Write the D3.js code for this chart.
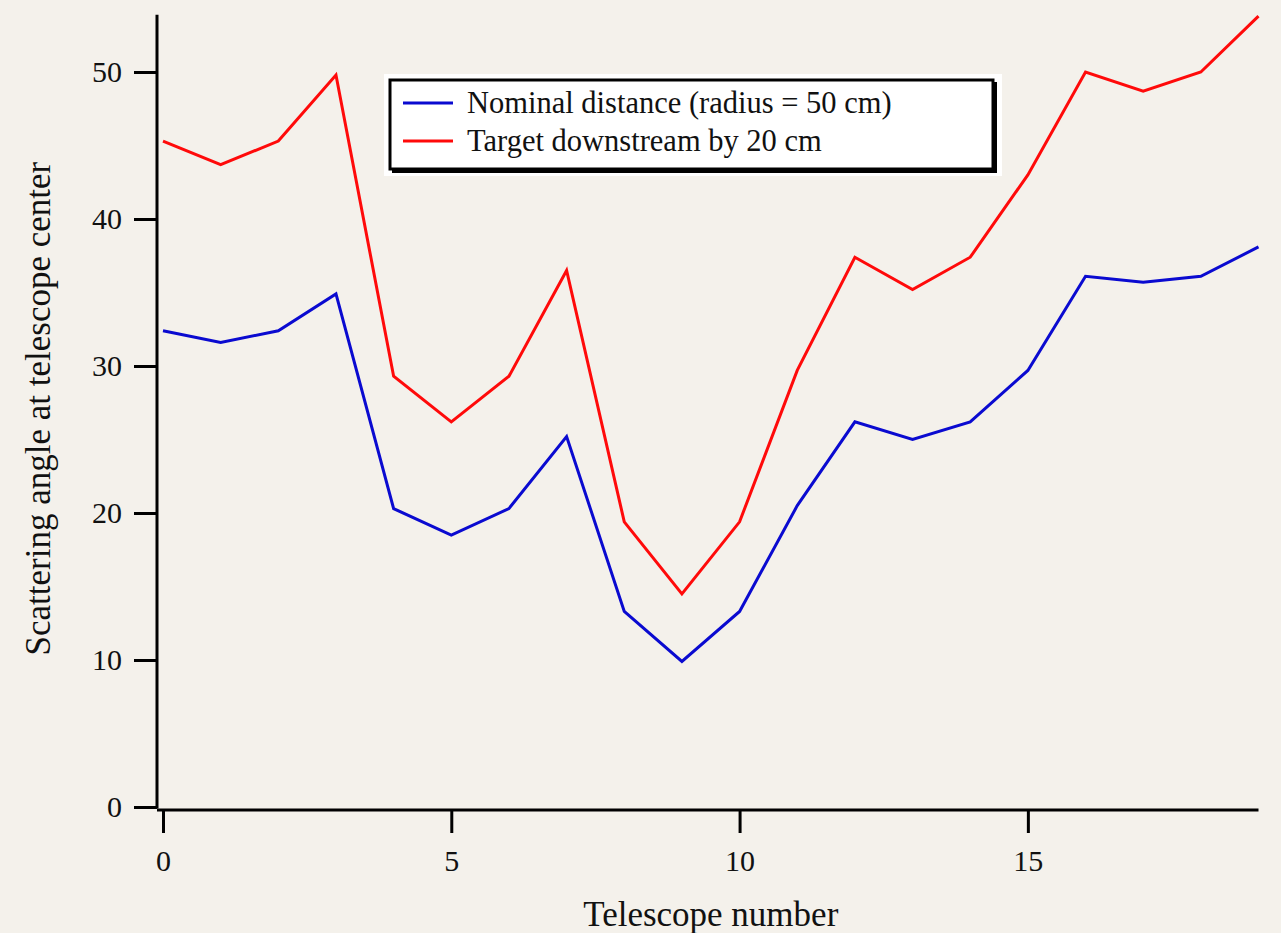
<!DOCTYPE html>
<html>
<head>
<meta charset="utf-8">
<script src="https://cdn.jsdelivr.net/npm/d3@7"></script>
<style>
  html, body { margin: 0; padding: 0; background: #f4f1eb; }
  svg { display: block; }
  text { font-family: "Liberation Serif", "DejaVu Serif", serif; fill: #111; }
</style>
</head>
<body>
<script>

// telescope index along x
let telescopes = d3.range(0, 20);

let nominal = [32.4, 31.6, 32.4, 34.9, 20.3, 18.5, 20.3, 25.2, 13.3, 9.9,
               13.3, 20.5, 26.2, 25.0, 26.2, 29.7, 36.1, 35.7, 36.1, 38.1];

let downstream = [45.3, 43.7, 45.3, 49.8, 29.3, 26.2, 29.3, 36.5, 19.4, 14.5,
                  19.4, 29.7, 37.4, 35.2, 37.4, 43.0, 50.0, 48.7, 50.0, 53.8];

let seriesNames = ["Nominal distance (radius = 50 cm)", "Target downstream by 20 cm"];
let seriesColors = ["#0a0ad0", "#ff0a0a"];

let xTicks = [0, 5, 10, 15];
let yTicks = [0, 10, 20, 30, 40, 50];

let width = 1281,
    height = 933;

let svg =
    d3.select("body")
        .append("svg")
        .attr("width", width)
        .attr("height", height);

let xScaler =
    d3.scaleLinear()
        .domain([0, 19])
        .range([163, 1258.5]);

let yScaler =
    d3.scaleLinear()
        .domain([0, 50])
        .range([807, 72]);

let axisX = 157;   // y axis sits left of x=0
let axisY = 810;   // x axis sits just under y=0

// y axis
let gy = svg.append("g")
    .attr("transform", `translate(${axisX},0)`)
    .call(d3.axisLeft(yScaler).tickValues(yTicks).tickSize(23).tickPadding(12).tickSizeOuter(0));

gy.select(".domain").remove();
gy.append("line")
    .attr("x1", 0).attr("x2", 0)
    .attr("y1", yScaler(0) + 1.5)
    .attr("y2", yScaler(53.9))
    .attr("stroke", "#000").attr("stroke-width", 3);

// x axis
let gx = svg.append("g")
    .attr("transform", `translate(0,${axisY})`)
    .call(d3.axisBottom(xScaler).tickValues(xTicks).tickSize(23).tickPadding(17).tickSizeOuter(0));

gx.select(".domain").remove();
gx.append("line")
    .attr("x1", axisX).attr("x2", xScaler(19))
    .attr("y1", 0).attr("y2", 0)
    .attr("stroke", "#000").attr("stroke-width", 3);

svg.selectAll(".tick line").attr("stroke", "#000").attr("stroke-width", 3);
svg.selectAll(".tick text")
    .style("font-family", '"Liberation Serif", serif')
    .style("font-size", "30px")
    .attr("fill", "#111");

// axis titles
svg.append("text")
    .attr("x", (xScaler(0) + xScaler(19)) / 2)
    .attr("y", 926)
    .attr("text-anchor", "middle")
    .style("font-size", "35px")
    .text("Telescope number");

svg.append("text")
    .attr("transform", `translate(50, ${yScaler(27.1)}) rotate(-90)`)
    .attr("text-anchor", "middle")
    .style("font-size", "35px")
    .text("Scattering angle at telescope center");

// lines
let lineMaker =
    d3.line()
        .x((d, i) => xScaler(telescopes[i]))
        .y(d => yScaler(d));

[nominal, downstream].forEach((s, i) => {
    svg.append("path")
        .datum(s)
        .attr("d", lineMaker)
        .attr("fill", "none")
        .attr("stroke", seriesColors[i])
        .attr("stroke-width", 3)
        .attr("stroke-linejoin", "miter");
});

// legend
let lg = svg.append("g").attr("transform", "translate(390,80)");

lg.append("rect")
    .attr("x", -6).attr("y", -6)
    .attr("width", 618).attr("height", 102)
    .attr("fill", "#fff");

lg.append("rect")
    .attr("x", 2).attr("y", 2)
    .attr("width", 605).attr("height", 91)
    .attr("fill", "#000");

lg.append("rect")
    .attr("x", 0).attr("y", 0)
    .attr("width", 603).attr("height", 89)
    .attr("fill", "#fff")
    .attr("stroke", "#000")
    .attr("stroke-width", 3);

let items = lg.selectAll(".legend")
    .data(seriesNames)
    .enter()
    .append("g")
    .attr("transform", (d, i) => `translate(0, ${23 + i * 38})`);

items.append("line")
    .attr("x1", 13).attr("x2", 63)
    .attr("stroke", (d, i) => seriesColors[i])
    .attr("stroke-width", 3);

items.append("text")
    .attr("x", 77)
    .attr("dy", "0.33em")
    .style("font-size", "30.5px")
    .text(d => d);

</script>
</body>
</html>
